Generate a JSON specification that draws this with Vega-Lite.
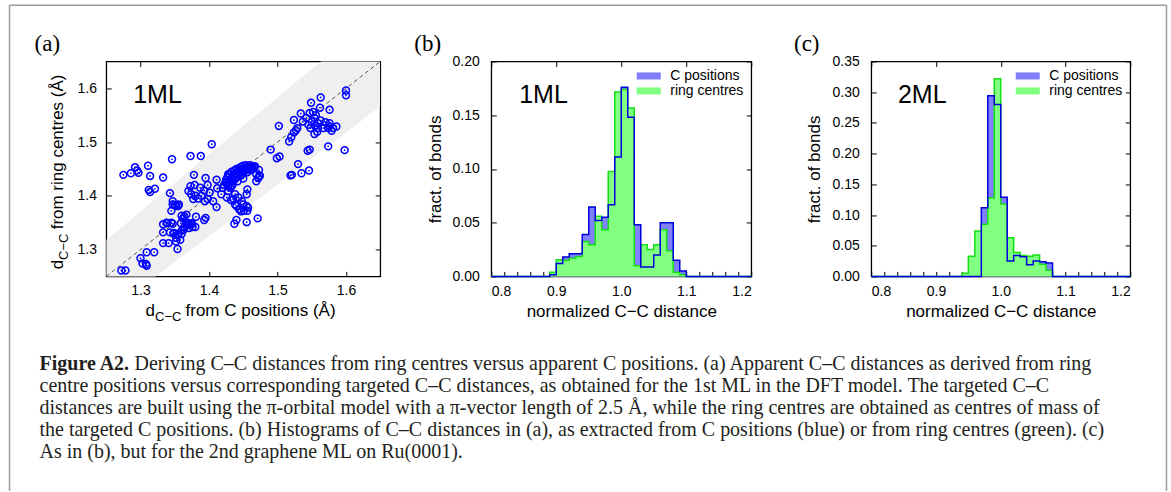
{
 "$schema": "https://vega.github.io/schema/vega-lite/v6.json",
 "padding": {"left": 7.25, "top": 3.45, "right": 0, "bottom": 0},
 "background": "white",
 "datasets": {
  "band": [{"x": 1.25, "lo": 1.18, "hi": 1.318}, {"x": 1.65, "lo": 1.566, "hi": 1.742}],
  "pts": [
   {"cpos":1.600,"ring":1.596},{"cpos":1.600,"ring":1.587},{"cpos":1.598,"ring":1.485},{"cpos":1.563,"ring":1.583},{"cpos":1.549,"ring":1.573},{"cpos":1.562,"ring":1.564},{"cpos":1.576,"ring":1.560},{"cpos":1.534,"ring":1.553},{"cpos":1.547,"ring":1.554},{"cpos":1.542,"ring":1.545},{"cpos":1.554,"ring":1.545},{"cpos":1.537,"ring":1.538},{"cpos":1.550,"ring":1.538},{"cpos":1.559,"ring":1.535},{"cpos":1.570,"ring":1.537},{"cpos":1.576,"ring":1.535},{"cpos":1.581,"ring":1.526},{"cpos":1.586,"ring":1.529},{"cpos":1.574,"ring":1.526},{"cpos":1.567,"ring":1.526},{"cpos":1.559,"ring":1.526},{"cpos":1.548,"ring":1.526},{"cpos":1.554,"ring":1.515},{"cpos":1.579,"ring":1.521},{"cpos":1.524,"ring":1.541},{"cpos":1.529,"ring":1.526},{"cpos":1.524,"ring":1.518},{"cpos":1.520,"ring":1.509},{"cpos":1.517,"ring":1.501},{"cpos":1.502,"ring":1.530},{"cpos":1.574,"ring":1.492},{"cpos":1.544,"ring":1.484},{"cpos":1.547,"ring":1.486},{"cpos":1.490,"ring":1.486},{"cpos":1.503,"ring":1.473},{"cpos":1.499,"ring":1.470},{"cpos":1.530,"ring":1.459},{"cpos":1.521,"ring":1.439},{"cpos":1.519,"ring":1.438},{"cpos":1.535,"ring":1.442},{"cpos":1.546,"ring":1.447},
   {"cpos":1.552,"ring":1.556},{"cpos":1.556,"ring":1.550},{"cpos":1.545,"ring":1.532},{"cpos":1.563,"ring":1.540},{"cpos":1.555,"ring":1.530},{"cpos":1.527,"ring":1.522},{"cpos":1.558,"ring":1.519},{"cpos":1.575,"ring":1.530},
   {"cpos":1.404,"ring":1.496},{"cpos":1.388,"ring":1.474},{"cpos":1.373,"ring":1.474},{"cpos":1.346,"ring":1.468},{"cpos":1.275,"ring":1.439},{"cpos":1.286,"ring":1.442},{"cpos":1.292,"ring":1.453},{"cpos":1.295,"ring":1.447},{"cpos":1.297,"ring":1.443},{"cpos":1.311,"ring":1.456},{"cpos":1.314,"ring":1.437},{"cpos":1.333,"ring":1.434},{"cpos":1.312,"ring":1.411},{"cpos":1.314,"ring":1.407},{"cpos":1.321,"ring":1.413},{"cpos":1.343,"ring":1.405},{"cpos":1.347,"ring":1.390},{"cpos":1.350,"ring":1.383},{"cpos":1.355,"ring":1.381},{"cpos":1.339,"ring":1.349},{"cpos":1.347,"ring":1.348},{"cpos":1.364,"ring":1.362},{"cpos":1.367,"ring":1.365},{"cpos":1.359,"ring":1.349},{"cpos":1.370,"ring":1.349},{"cpos":1.375,"ring":1.349},{"cpos":1.363,"ring":1.337},{"cpos":1.371,"ring":1.340},{"cpos":1.376,"ring":1.342},{"cpos":1.349,"ring":1.331},{"cpos":1.355,"ring":1.328},{"cpos":1.360,"ring":1.329},{"cpos":1.352,"ring":1.315},{"cpos":1.358,"ring":1.318},{"cpos":1.354,"ring":1.301},{"cpos":1.333,"ring":1.312},{"cpos":1.341,"ring":1.312},{"cpos":1.309,"ring":1.295},{"cpos":1.320,"ring":1.295},{"cpos":1.300,"ring":1.284},{"cpos":1.303,"ring":1.274},{"cpos":1.308,"ring":1.273},{"cpos":1.309,"ring":1.270},{"cpos":1.272,"ring":1.261},{"cpos":1.278,"ring":1.261},
   {"cpos":1.378,"ring":1.439},{"cpos":1.395,"ring":1.433},{"cpos":1.398,"ring":1.420},{"cpos":1.411,"ring":1.430},{"cpos":1.412,"ring":1.414},{"cpos":1.401,"ring":1.406},{"cpos":1.393,"ring":1.410},{"cpos":1.387,"ring":1.415},{"cpos":1.379,"ring":1.420},{"cpos":1.373,"ring":1.418},{"cpos":1.370,"ring":1.409},{"cpos":1.374,"ring":1.403},{"cpos":1.380,"ring":1.400},{"cpos":1.389,"ring":1.400},{"cpos":1.398,"ring":1.394},{"cpos":1.406,"ring":1.390},{"cpos":1.394,"ring":1.390},{"cpos":1.411,"ring":1.379},{"cpos":1.384,"ring":1.395},{"cpos":1.377,"ring":1.394},{"cpos":1.428,"ring":1.440},{"cpos":1.429,"ring":1.428},{"cpos":1.433,"ring":1.418},{"cpos":1.428,"ring":1.409},{"cpos":1.438,"ring":1.403},{"cpos":1.443,"ring":1.397},{"cpos":1.432,"ring":1.392},{"cpos":1.426,"ring":1.397},{"cpos":1.418,"ring":1.403},{"cpos":1.438,"ring":1.384},{"cpos":1.444,"ring":1.375},
   {"cpos":1.360,"ring":1.363},{"cpos":1.362,"ring":1.358},{"cpos":1.367,"ring":1.350},{"cpos":1.370,"ring":1.346},{"cpos":1.374,"ring":1.347},{"cpos":1.364,"ring":1.342},{"cpos":1.360,"ring":1.335},{"cpos":1.355,"ring":1.329},{"cpos":1.352,"ring":1.322},{"cpos":1.348,"ring":1.330},{"cpos":1.343,"ring":1.332},{"cpos":1.333,"ring":1.332},{"cpos":1.345,"ring":1.350},{"cpos":1.333,"ring":1.347},{"cpos":1.338,"ring":1.350},{"cpos":1.345,"ring":1.372},{"cpos":1.347,"ring":1.384},{"cpos":1.352,"ring":1.381},{"cpos":1.356,"ring":1.384},{"cpos":1.381,"ring":1.361},{"cpos":1.380,"ring":1.342},{"cpos":1.395,"ring":1.359},{"cpos":1.393,"ring":1.355},
   {"cpos":1.456,"ring":1.412},{"cpos":1.455,"ring":1.403},{"cpos":1.448,"ring":1.390},{"cpos":1.450,"ring":1.384},{"cpos":1.455,"ring":1.381},{"cpos":1.457,"ring":1.378},{"cpos":1.456,"ring":1.372},{"cpos":1.451,"ring":1.372},{"cpos":1.447,"ring":1.371},{"cpos":1.445,"ring":1.375},{"cpos":1.440,"ring":1.381},{"cpos":1.435,"ring":1.394},{"cpos":1.455,"ring":1.351},{"cpos":1.471,"ring":1.358},{"cpos":1.440,"ring":1.355},{"cpos":1.437,"ring":1.348},{"cpos":1.472,"ring":1.434},{"cpos":1.474,"ring":1.437},{"cpos":1.469,"ring":1.440},{"cpos":1.450,"ring":1.432},{"cpos":1.460,"ring":1.452},
   {"cpos":1.420,"ring":1.415},{"cpos":1.422,"ring":1.420},{"cpos":1.424,"ring":1.425},{"cpos":1.425,"ring":1.430},{"cpos":1.427,"ring":1.435},{"cpos":1.428,"ring":1.418},{"cpos":1.430,"ring":1.425},{"cpos":1.430,"ring":1.440},{"cpos":1.432,"ring":1.432},{"cpos":1.433,"ring":1.445},{"cpos":1.435,"ring":1.438},{"cpos":1.436,"ring":1.428},{"cpos":1.437,"ring":1.447},{"cpos":1.439,"ring":1.442},{"cpos":1.440,"ring":1.450},{"cpos":1.441,"ring":1.435},{"cpos":1.443,"ring":1.448},{"cpos":1.444,"ring":1.452},{"cpos":1.445,"ring":1.443},{"cpos":1.447,"ring":1.454},{"cpos":1.448,"ring":1.449},{"cpos":1.450,"ring":1.456},{"cpos":1.451,"ring":1.445},{"cpos":1.452,"ring":1.452},{"cpos":1.454,"ring":1.457},{"cpos":1.455,"ring":1.450},{"cpos":1.456,"ring":1.444},{"cpos":1.457,"ring":1.455},{"cpos":1.459,"ring":1.452},{"cpos":1.460,"ring":1.457},{"cpos":1.461,"ring":1.448},{"cpos":1.463,"ring":1.454},{"cpos":1.464,"ring":1.450},{"cpos":1.466,"ring":1.453},{"cpos":1.426,"ring":1.422},{"cpos":1.434,"ring":1.420},{"cpos":1.438,"ring":1.433},{"cpos":1.446,"ring":1.438},{"cpos":1.449,"ring":1.441},{"cpos":1.442,"ring":1.427},{"cpos":1.431,"ring":1.415},{"cpos":1.444,"ring":1.445},{"cpos":1.453,"ring":1.447},{"cpos":1.458,"ring":1.449},{"cpos":1.467,"ring":1.455},{"cpos":1.473,"ring":1.448},{"cpos":1.472,"ring":1.433},{"cpos":1.469,"ring":1.427},{"cpos":1.474,"ring":1.438}
  ],
  "hb": [
   {"s":"C positions","d":0.80,"f":0},{"s":"C positions","d":0.89,"f":0.0016},{"s":"C positions","d":0.90,"f":0.012},{"s":"C positions","d":0.91,"f":0.018},{"s":"C positions","d":0.92,"f":0.021},{"s":"C positions","d":0.93,"f":0.021},{"s":"C positions","d":0.94,"f":0.039},{"s":"C positions","d":0.95,"f":0.0645},{"s":"C positions","d":0.96,"f":0.052},{"s":"C positions","d":0.97,"f":0.055},{"s":"C positions","d":0.98,"f":0.0667},{"s":"C positions","d":0.99,"f":0.111},{"s":"C positions","d":1.00,"f":0.176},{"s":"C positions","d":1.01,"f":0.148},{"s":"C positions","d":1.02,"f":0.048},{"s":"C positions","d":1.03,"f":0.0087},{"s":"C positions","d":1.04,"f":0.0087},{"s":"C positions","d":1.05,"f":0.020},{"s":"C positions","d":1.06,"f":0.050},{"s":"C positions","d":1.07,"f":0.050},{"s":"C positions","d":1.08,"f":0.015},{"s":"C positions","d":1.09,"f":0.005},{"s":"C positions","d":1.10,"f":0},{"s":"C positions","d":1.20,"f":0},
   {"s":"ring centres","d":0.80,"f":0},{"s":"ring centres","d":0.89,"f":0.004},{"s":"ring centres","d":0.90,"f":0.0155},{"s":"ring centres","d":0.91,"f":0.015},{"s":"ring centres","d":0.92,"f":0.017},{"s":"ring centres","d":0.93,"f":0.0186},{"s":"ring centres","d":0.94,"f":0.0326},{"s":"ring centres","d":0.95,"f":0.0295},{"s":"ring centres","d":0.96,"f":0.056},{"s":"ring centres","d":0.97,"f":0.0434},{"s":"ring centres","d":0.98,"f":0.0977},{"s":"ring centres","d":0.99,"f":0.1715},{"s":"ring centres","d":1.00,"f":0.174},{"s":"ring centres","d":1.01,"f":0.1566},{"s":"ring centres","d":1.02,"f":0.010},{"s":"ring centres","d":1.03,"f":0.0295},{"s":"ring centres","d":1.04,"f":0.025},{"s":"ring centres","d":1.05,"f":0.0295},{"s":"ring centres","d":1.06,"f":0.0434},{"s":"ring centres","d":1.07,"f":0.024},{"s":"ring centres","d":1.08,"f":0.004},{"s":"ring centres","d":1.09,"f":0.0015},{"s":"ring centres","d":1.10,"f":0},{"s":"ring centres","d":1.20,"f":0}
  ],
  "hc": [
   {"s":"C positions","d":0.80,"f":0},{"s":"C positions","d":0.97,"f":0.112},{"s":"C positions","d":0.98,"f":0.294},{"s":"C positions","d":0.99,"f":0.280},{"s":"C positions","d":1.00,"f":0.129},{"s":"C positions","d":1.01,"f":0.025},{"s":"C positions","d":1.02,"f":0.034},{"s":"C positions","d":1.03,"f":0.032},{"s":"C positions","d":1.04,"f":0.019},{"s":"C positions","d":1.05,"f":0.025},{"s":"C positions","d":1.06,"f":0.024},{"s":"C positions","d":1.07,"f":0.022},{"s":"C positions","d":1.08,"f":0},{"s":"C positions","d":1.20,"f":0},
   {"s":"ring centres","d":0.80,"f":0},{"s":"ring centres","d":0.94,"f":0.005},{"s":"ring centres","d":0.95,"f":0.033},{"s":"ring centres","d":0.96,"f":0.074},{"s":"ring centres","d":0.97,"f":0.085},{"s":"ring centres","d":0.98,"f":0.128},{"s":"ring centres","d":0.99,"f":0.322},{"s":"ring centres","d":1.00,"f":0.118},{"s":"ring centres","d":1.01,"f":0.063},{"s":"ring centres","d":1.02,"f":0.039},{"s":"ring centres","d":1.03,"f":0.034},{"s":"ring centres","d":1.04,"f":0.033},{"s":"ring centres","d":1.05,"f":0.035},{"s":"ring centres","d":1.06,"f":0.020},{"s":"ring centres","d":1.07,"f":0.010},{"s":"ring centres","d":1.08,"f":0},{"s":"ring centres","d":1.20,"f":0}
  ]
 },
 "hconcat": [
  {
   "width": 274, "height": 215,
   "layer": [
    {"data": {"values": [{}]}, "mark": {"type": "rule", "color": "#9a9a9a", "strokeWidth": 1.5},
     "encoding": {"x": {"datum": 1.10876, "type": "quantitative", "scale": {"domain": [1.25, 1.65], "nice": false, "zero": false}, "axis": null},
                  "y": {"datum": 1.75446, "type": "quantitative", "scale": {"domain": [1.25, 1.65], "nice": false, "zero": false}, "axis": null},
                  "y2": {"datum": 0.85149}}},
    {"data": {"values": [{}]}, "mark": {"type": "rule", "color": "#9a9a9a", "strokeWidth": 1.5},
     "encoding": {"x": {"datum": 1.10876, "type": "quantitative", "axis": null}, "x2": {"datum": 2.79781},
                  "y": {"datum": 1.75446, "type": "quantitative", "axis": null}}},
    {"data": {"values": [{}]}, "mark": {"type": "rule", "color": "#9a9a9a", "strokeWidth": 1.5},
     "encoding": {"x": {"datum": 2.79781, "type": "quantitative", "axis": null},
                  "y": {"datum": 1.75446, "type": "quantitative", "axis": null}, "y2": {"datum": 0.85149}}},
    {"data": {"name": "band"}, "mark": {"type": "area", "color": "#efefef", "opacity": 1, "clip": true},
     "encoding": {"x": {"field": "x", "type": "quantitative", "axis": {"orient": "top", "values": [1.3, 1.4, 1.5, 1.6], "labels": false, "title": null}},
                  "y": {"field": "hi", "type": "quantitative", "axis": {"orient": "right", "values": [1.3, 1.4, 1.5, 1.6], "labels": false, "title": null}},
                  "y2": {"field": "lo"}}},
    {"data": {"name": "band"}, "mark": {"type": "line", "color": "#555555", "strokeWidth": 1, "strokeDash": [4, 3], "clip": true},
     "encoding": {"x": {"field": "x", "type": "quantitative", "axis": null}, "y": {"field": "x", "type": "quantitative", "axis": null}}},
    {"data": {"name": "pts"}, "mark": {"type": "point", "shape": "circle", "filled": false, "color": "#0000ff", "size": 48, "strokeWidth": 1.5, "opacity": 1},
     "encoding": {"x": {"field": "cpos", "type": "quantitative", "axis": {"orient": "bottom", "values": [1.3, 1.4, 1.5, 1.6], "format": ".1f", "title": null, "labelPadding": 12}},
                  "y": {"field": "ring", "type": "quantitative", "axis": {"orient": "left", "values": [1.3, 1.4, 1.5, 1.6], "format": ".1f", "title": null, "labelPadding": 14.75}}}},
    {"data": {"name": "pts"}, "mark": {"type": "point", "shape": "circle", "filled": true, "color": "#0000ff", "size": 3, "opacity": 1},
     "encoding": {"x": {"field": "cpos", "type": "quantitative", "axis": null}, "y": {"field": "ring", "type": "quantitative", "axis": null}}},
    {"data": {"values": [{}]}, "mark": {"type": "text", "font": "Liberation Sans", "fontSize": 25, "align": "left", "baseline": "alphabetic", "color": "#000"},
     "encoding": {"x": {"datum": 1.2893, "type": "quantitative", "axis": null}, "y": {"datum": 1.5732, "type": "quantitative", "axis": null}, "text": {"value": "1ML"}}},
    {"data": {"values": [{}]}, "mark": {"type": "text", "font": "Liberation Serif", "fontSize": 23, "align": "left", "baseline": "alphabetic", "color": "#000"},
     "encoding": {"x": {"datum": 1.1453, "type": "quantitative", "axis": null}, "y": {"datum": 1.6693, "type": "quantitative", "axis": null}, "text": {"value": "(a)"}}},
    {"data": {"values": [{}]}, "mark": {"type": "text", "font": "Liberation Sans", "fontSize": 17, "align": "left", "baseline": "alphabetic", "color": "#000"},
     "encoding": {"x": {"datum": 1.3073, "type": "quantitative", "axis": null}, "y": {"datum": 1.1768, "type": "quantitative", "axis": null}, "text": {"value": "d"}}},
    {"data": {"values": [{}]}, "mark": {"type": "text", "font": "Liberation Sans", "fontSize": 13, "align": "left", "baseline": "alphabetic", "color": "#000"},
     "encoding": {"x": {"datum": 1.3212, "type": "quantitative", "axis": null}, "y": {"datum": 1.1665, "type": "quantitative", "axis": null}, "text": {"value": "C−C"}}},
    {"data": {"values": [{}]}, "mark": {"type": "text", "font": "Liberation Sans", "fontSize": 17, "align": "left", "baseline": "alphabetic", "color": "#000"},
     "encoding": {"x": {"datum": 1.3657, "type": "quantitative", "axis": null}, "y": {"datum": 1.1768, "type": "quantitative", "axis": null}, "text": {"value": "from C positions (Å)"}}},
    {"data": {"values": [{}]}, "mark": {"type": "text", "font": "Liberation Sans", "fontSize": 17, "align": "left", "baseline": "alphabetic", "angle": 270, "color": "#000"},
     "encoding": {"x": {"datum": 1.18613, "type": "quantitative", "axis": null}, "y": {"datum": 1.26357, "type": "quantitative", "axis": null}, "text": {"value": "d"}}},
    {"data": {"values": [{}]}, "mark": {"type": "text", "font": "Liberation Sans", "fontSize": 13, "align": "left", "baseline": "alphabetic", "angle": 270, "color": "#000"},
     "encoding": {"x": {"datum": 1.19343, "type": "quantitative", "axis": null}, "y": {"datum": 1.28066, "type": "quantitative", "axis": null}, "text": {"value": "C−C"}}},
    {"data": {"values": [{}]}, "mark": {"type": "text", "font": "Liberation Sans", "fontSize": 17, "align": "left", "baseline": "alphabetic", "angle": 270, "color": "#000"},
     "encoding": {"x": {"datum": 1.18613, "type": "quantitative", "axis": null}, "y": {"datum": 1.33764, "type": "quantitative", "axis": null}, "text": {"value": "from ring centres (Å)"}}},
    {"data": {"values": [{"t": "Figure A2."}]},
     "mark": {"type": "text", "font": "Liberation Serif", "fontSize": 20, "fontWeight": "bold", "align": "left", "baseline": "middle", "color": "#231f20"},
     "encoding": {"x": {"datum": 1.15255, "type": "quantitative", "axis": null}, "y": {"datum": 1.0868, "type": "quantitative", "axis": null}, "text": {"field": "t"}}},
    {"data": {"values": [{"t": "Deriving C–C distances from ring centres versus apparent C positions. (a) Apparent C–C distances as derived from ring"}]},
     "mark": {"type": "text", "font": "Liberation Serif", "fontSize": 20, "align": "left", "baseline": "middle", "color": "#231f20"},
     "encoding": {"x": {"datum": 1.29124, "type": "quantitative", "axis": null}, "y": {"datum": 1.0868, "type": "quantitative", "axis": null}, "text": {"field": "t"}}},
    {"data": {"values": [{"t": "centre positions versus corresponding targeted C–C distances, as obtained for the 1st  ML in the DFT model. The targeted C–C"}]},
     "mark": {"type": "text", "font": "Liberation Serif", "fontSize": 20, "align": "left", "baseline": "middle", "color": "#231f20"},
     "encoding": {"x": {"datum": 1.15255, "type": "quantitative", "axis": null}, "y": {"datum": 1.04591, "type": "quantitative", "axis": null}, "text": {"field": "t"}}},
    {"data": {"values": [{"t": "distances are built using the π-orbital model with a π-vector length of 2.5  Å, while the ring centres are obtained as centres of mass of"}]},
     "mark": {"type": "text", "font": "Liberation Serif", "fontSize": 20, "align": "left", "baseline": "middle", "color": "#231f20"},
     "encoding": {"x": {"datum": 1.15255, "type": "quantitative", "axis": null}, "y": {"datum": 1.00502, "type": "quantitative", "axis": null}, "text": {"field": "t"}}},
    {"data": {"values": [{"t": "the targeted C positions. (b) Histograms of C–C distances in (a), as extracted from C positions (blue) or from ring centres (green). (c)"}]},
     "mark": {"type": "text", "font": "Liberation Serif", "fontSize": 20, "align": "left", "baseline": "middle", "color": "#231f20"},
     "encoding": {"x": {"datum": 1.15255, "type": "quantitative", "axis": null}, "y": {"datum": 0.96413, "type": "quantitative", "axis": null}, "text": {"field": "t"}}},
    {"data": {"values": [{"t": "As in (b), but for the 2nd graphene ML on Ru(0001)."}]},
     "mark": {"type": "text", "font": "Liberation Serif", "fontSize": 20, "align": "left", "baseline": "middle", "color": "#231f20"},
     "encoding": {"x": {"datum": 1.15255, "type": "quantitative", "axis": null}, "y": {"datum": 0.92323, "type": "quantitative", "axis": null}, "text": {"field": "t"}}}
   ],
   "resolve": {"axis": {"x": "independent", "y": "independent"}}
  },
  {
   "hconcat": [
    {
     "width": 260, "height": 215,
     "layer": [
      {"data": {"name": "hb"}, "transform": [{"filter": "datum.s === 'C positions'"}],
       "mark": {"type": "area", "interpolate": "step-after", "opacity": 1},
       "encoding": {
        "x": {"field": "d", "type": "quantitative", "scale": {"domain": [0.8, 1.2], "nice": false, "zero": false},
              "axis": {"orient": "bottom", "values": [0.8,0.82,0.84,0.86,0.88,0.9,0.92,0.94,0.96,0.98,1.0,1.02,1.04,1.06,1.08,1.1,1.12,1.14,1.16,1.18,1.2], "labelExpr": "abs(datum.value*10 - round(datum.value*10)) < 0.01 ? format(datum.value, '.1f') : ''", "title": "normalized C−C distance", "labelPadding": 13.5, "titlePadding": 5}},
        "y": {"field": "f", "type": "quantitative", "scale": {"domain": [0, 0.2], "nice": false},
              "axis": {"orient": "left", "values": [0, 0.05, 0.1, 0.15, 0.2], "format": ".2f", "title": "fract. of bonds", "labelPadding": 17, "titlePadding": 8}},
        "fill": {"field": "s", "type": "nominal", "scale": {"domain": ["C positions", "ring centres"], "range": ["#8080ff", "#80ff80"]},
                 "legend": {"orient": "top-right", "offset": 7, "title": null, "symbolType": "M-1.7,-0.5H1.7V0.5H-1.7Z", "symbolSize": 200, "symbolStrokeWidth": 0, "symbolOpacity": 1, "labelFont": "Liberation Sans", "labelFontSize": 14, "labelColor": "#000", "labelOffset": 14, "rowPadding": 0, "padding": 0}}
       }},
      {"data": {"name": "hb"}, "transform": [{"filter": "datum.s === 'ring centres'"}],
       "mark": {"type": "area", "interpolate": "step-after", "opacity": 1},
       "encoding": {"x": {"field": "d", "type": "quantitative", "axis": null}, "y": {"field": "f", "type": "quantitative", "axis": null},
                    "fill": {"field": "s", "type": "nominal"}}},
      {"data": {"name": "hb"}, "transform": [{"filter": "datum.s === 'ring centres'"}],
       "mark": {"type": "line", "interpolate": "step-after", "color": "#14e014", "strokeWidth": 1.5},
       "encoding": {"x": {"field": "d", "type": "quantitative", "axis": {"orient": "top", "values": [0.8, 0.9, 1.0, 1.1, 1.2], "labels": false, "title": null}},
                    "y": {"field": "f", "type": "quantitative", "axis": {"orient": "right", "values": [0, 0.05, 0.1, 0.15, 0.2], "labels": false, "title": null}}}},
      {"data": {"name": "hb"}, "transform": [{"filter": "datum.s === 'C positions'"}],
       "mark": {"type": "line", "interpolate": "step-after", "color": "#0000dd", "strokeWidth": 1.5},
       "encoding": {"x": {"field": "d", "type": "quantitative", "axis": null}, "y": {"field": "f", "type": "quantitative", "axis": null}}},
      {"data": {"values": [{}]}, "mark": {"type": "text", "font": "Liberation Sans", "fontSize": 25, "align": "left", "baseline": "alphabetic", "color": "#000"},
       "encoding": {"x": {"datum": 0.843, "type": "quantitative", "axis": null}, "y": {"datum": 0.1618, "type": "quantitative", "axis": null}, "text": {"value": "1ML"}}},
      {"data": {"values": [{}]}, "mark": {"type": "text", "font": "Liberation Serif", "fontSize": 23, "align": "left", "baseline": "alphabetic", "color": "#000"},
       "encoding": {"x": {"datum": 0.6815, "type": "quantitative", "axis": null}, "y": {"datum": 0.2097, "type": "quantitative", "axis": null}, "text": {"value": "(b)"}}}
     ],
     "resolve": {"axis": {"x": "independent", "y": "independent"}}
    },
    {
     "width": 259, "height": 215,
     "layer": [
      {"data": {"name": "hc"}, "transform": [{"filter": "datum.s === 'C positions'"}],
       "mark": {"type": "area", "interpolate": "step-after", "opacity": 1},
       "encoding": {
        "x": {"field": "d", "type": "quantitative", "scale": {"domain": [0.8, 1.2], "nice": false, "zero": false},
              "axis": {"orient": "bottom", "values": [0.8,0.82,0.84,0.86,0.88,0.9,0.92,0.94,0.96,0.98,1.0,1.02,1.04,1.06,1.08,1.1,1.12,1.14,1.16,1.18,1.2], "labelExpr": "abs(datum.value*10 - round(datum.value*10)) < 0.01 ? format(datum.value, '.1f') : ''", "title": "normalized C−C distance", "labelPadding": 13.5, "titlePadding": 5}},
        "y": {"field": "f", "type": "quantitative", "scale": {"domain": [0, 0.35], "nice": false},
              "axis": {"orient": "left", "values": [0, 0.05, 0.1, 0.15, 0.2, 0.25, 0.3, 0.35], "format": ".2f", "title": "fract. of bonds", "labelPadding": 17, "titlePadding": 8}},
        "fill": {"field": "s", "type": "nominal", "scale": {"domain": ["C positions", "ring centres"], "range": ["#8080ff", "#80ff80"]},
                 "legend": {"orient": "top-right", "offset": 7, "title": null, "symbolType": "M-1.7,-0.5H1.7V0.5H-1.7Z", "symbolSize": 200, "symbolStrokeWidth": 0, "symbolOpacity": 1, "labelFont": "Liberation Sans", "labelFontSize": 14, "labelColor": "#000", "labelOffset": 14, "rowPadding": 0, "padding": 0}}
       }},
      {"data": {"name": "hc"}, "transform": [{"filter": "datum.s === 'ring centres'"}],
       "mark": {"type": "area", "interpolate": "step-after", "opacity": 1},
       "encoding": {"x": {"field": "d", "type": "quantitative", "axis": null}, "y": {"field": "f", "type": "quantitative", "axis": null},
                    "fill": {"field": "s", "type": "nominal"}}},
      {"data": {"name": "hc"}, "transform": [{"filter": "datum.s === 'ring centres'"}],
       "mark": {"type": "line", "interpolate": "step-after", "color": "#14e014", "strokeWidth": 1.5},
       "encoding": {"x": {"field": "d", "type": "quantitative", "axis": {"orient": "top", "values": [0.8, 0.9, 1.0, 1.1, 1.2], "labels": false, "title": null}},
                    "y": {"field": "f", "type": "quantitative", "axis": {"orient": "right", "values": [0, 0.05, 0.1, 0.15, 0.2, 0.25, 0.3, 0.35], "labels": false, "title": null}}}},
      {"data": {"name": "hc"}, "transform": [{"filter": "datum.s === 'C positions'"}],
       "mark": {"type": "line", "interpolate": "step-after", "color": "#0000dd", "strokeWidth": 1.5},
       "encoding": {"x": {"field": "d", "type": "quantitative", "axis": null}, "y": {"field": "f", "type": "quantitative", "axis": null}}},
      {"data": {"values": [{}]}, "mark": {"type": "text", "font": "Liberation Sans", "fontSize": 25, "align": "left", "baseline": "alphabetic", "color": "#000"},
       "encoding": {"x": {"datum": 0.8412, "type": "quantitative", "axis": null}, "y": {"datum": 0.2828, "type": "quantitative", "axis": null}, "text": {"value": "2ML"}}},
      {"data": {"values": [{}]}, "mark": {"type": "text", "font": "Liberation Serif", "fontSize": 23, "align": "left", "baseline": "alphabetic", "color": "#000"},
       "encoding": {"x": {"datum": 0.6807, "type": "quantitative", "axis": null}, "y": {"datum": 0.3669, "type": "quantitative", "axis": null}, "text": {"value": "(c)"}}}
     ],
     "resolve": {"axis": {"x": "independent", "y": "independent"}}
    }
   ],
   "spacing": 120,
   "bounds": "flush",
   "resolve": {"scale": {"fill": "independent"}, "legend": {"fill": "independent"}}
  }
 ],
 "spacing": 111,
 "bounds": "flush",
 "resolve": {"scale": {"fill": "independent"}, "legend": {"fill": "independent"}},
 "config": {
  "view": {"stroke": "#000", "strokeWidth": 1.3},
  "axis": {"domain": false, "grid": false, "ticks": true, "tickSize": -5, "tickColor": "#000", "tickWidth": 1, "labelFont": "Liberation Sans", "labelFontSize": 14, "labelColor": "#000", "titleFont": "Liberation Sans", "titleFontSize": 17, "titleFontWeight": "normal", "titleColor": "#000"}
 }
}
